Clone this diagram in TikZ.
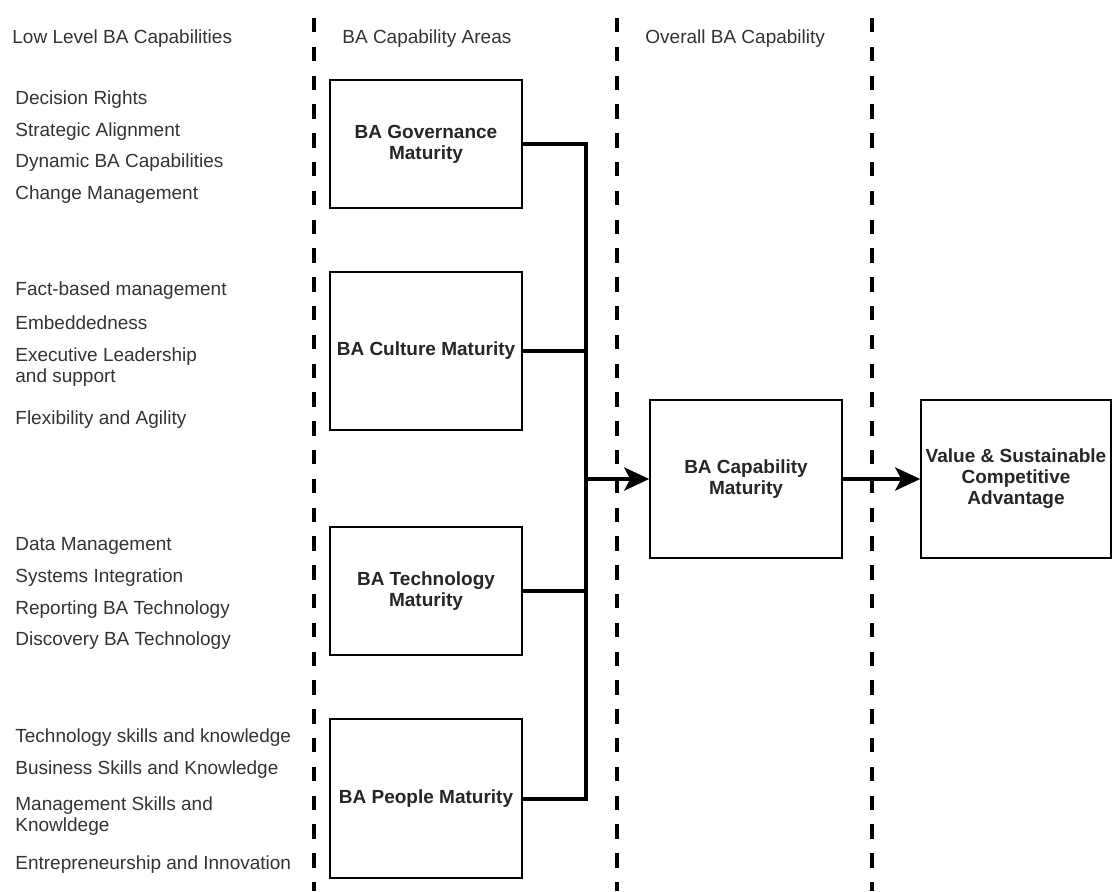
\documentclass[tikz,border=0pt]{standalone}
\usepackage{fontspec}
\setmainfont{Liberation Sans}
\usetikzlibrary{arrows.meta}

\begin{document}
\begin{tikzpicture}[x=0.5pt, y=-0.5pt,
    lbl/.style={anchor=west, inner sep=0pt, align=left, yshift=-1.5pt, text=black!80,
        font=\fontsize{9.5}{10.5}\selectfont},
    area/.style={draw, line width=0.75pt, align=center, minimum width=96pt, minimum height=64pt,
        inner sep=1pt, text=black!85, font=\fontsize{9.5}{10.5}\selectfont\bfseries},
    divider/.style={line width=2pt, dash pattern=on 7.2pt off 7.2pt},
    link/.style={line width=2pt},
    flow/.style={link, -{Stealth[length=12.5pt, width=11.5pt, inset=3pt]}}]
    \useasboundingbox (0,0) rectangle (1112,891);

    % column dividers
    \draw[divider] (314,18) -- (314,891);
    \draw[divider] (617,18) -- (617,891);
    \draw[divider] (872,18) -- (872,891);

    % column headings
    \node[lbl] (hlow) at (12,36) {Low Level BA Capabilities};
    \node[lbl] (harea) at (342,36) {BA Capability Areas};
    \node[lbl] (hall) at (645,36) {Overall BA Capability};

    % Group 1: governance
    \node[lbl] (g1) at (15,97) {Decision Rights};
    \node[lbl] (g2) at (15,129) {Strategic Alignment};
    \node[lbl] (g3) at (15,160) {Dynamic BA Capabilities};
    \node[lbl] (g4) at (15,192) {Change Management};

    % Group 2: culture
    \node[lbl] (c1) at (15,288) {Fact-based management};
    \node[lbl] (c2) at (15,320) {Embeddedness};
    \node[lbl] (c3) at (15,364) {Executive Leadership\\and support};
    \node[lbl] (c4) at (15,417) {Flexibility and Agility};

    % Group 3: technology
    \node[lbl] (t1) at (15,543) {Data Management};
    \node[lbl] (t2) at (15,575) {Systems Integration};
    \node[lbl] (t3) at (15,607) {Reporting BA Technology};
    \node[lbl] (t4) at (15,638) {Discovery BA Technology};

    % Group 4: people
    \node[lbl] (p1) at (15,735) {Technology skills and knowledge};
    \node[lbl] (p2) at (15,767) {Business Skills and Knowledge};
    \node[lbl] (p3) at (15,813) {Management Skills and\\Knowldege};
    \node[lbl] (p4) at (15,862) {Entrepreneurship and Innovation};

    % capability areas
    \node[area] (gov) at (426,144) {BA Governance\\Maturity};
    \node[area, minimum height=79pt] (cult) at (426,351) {BA Culture Maturity};
    \node[area] (tech) at (426,591) {BA Technology\\Maturity};
    \node[area, minimum height=79.5pt] (peop) at (426,798.5) {BA People Maturity};

    % overall capability and outcome
    \node[area, minimum height=79pt] (cap) at (746,479) {BA Capability\\Maturity};
    \node[area, minimum width=95pt, minimum height=79pt] (val) at (1016,479) {Value \& Sustainable\\Competitive\\Advantage};

    % connectors
    \coordinate (bus) at (586,479);
    \draw[link] (gov.east) -| (bus);
    \draw[link] (cult.east) -| (bus);
    \draw[link] (tech.east) -| (bus);
    \draw[link] (peop.east) -| (bus);
    \draw[flow] (bus) -- (cap.west);
    \draw[flow] (cap.east) -- (val.west);
\end{tikzpicture}
\end{document}
